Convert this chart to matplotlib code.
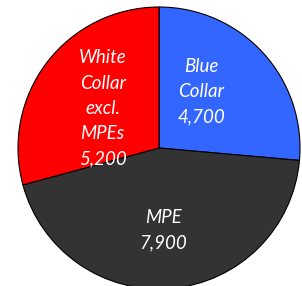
import matplotlib.pyplot as plt

categories = ["Blue\nCollar", "MPE", "White\nCollar\nexcl.\nMPEs"]
values = [4700, 7900, 5200]
colors = ["#3366FF", "#333333", "#FF0000"]
# label centres in radius units
label_pos = [(0.30, 0.40), (0.03, -0.58), (-0.40, 0.28)]

fig = plt.figure(figsize=(3.02, 2.86), dpi=100)
cx, cy, r = 159, 138, 141
ax = fig.add_axes([(cx - r) / 302, (cy - r) / 286, 2 * r / 302, 2 * r / 286])

ax.pie(values, colors=colors, startangle=90, counterclock=False,
       wedgeprops=dict(edgecolor="black", linewidth=0.8))
ax.set_xlim(-1, 1)
ax.set_ylim(-1, 1)
ax.set_aspect("equal")
ax.axis("off")

for name, v, (x, y) in zip(categories, values, label_pos):
    ax.text(x, y, f"{name}\n{v:,}", ha="center", va="center", color="white",
            fontsize=13.5, style="italic", family="Lato", linespacing=1.6)

fig.savefig("out.png", dpi=100)
